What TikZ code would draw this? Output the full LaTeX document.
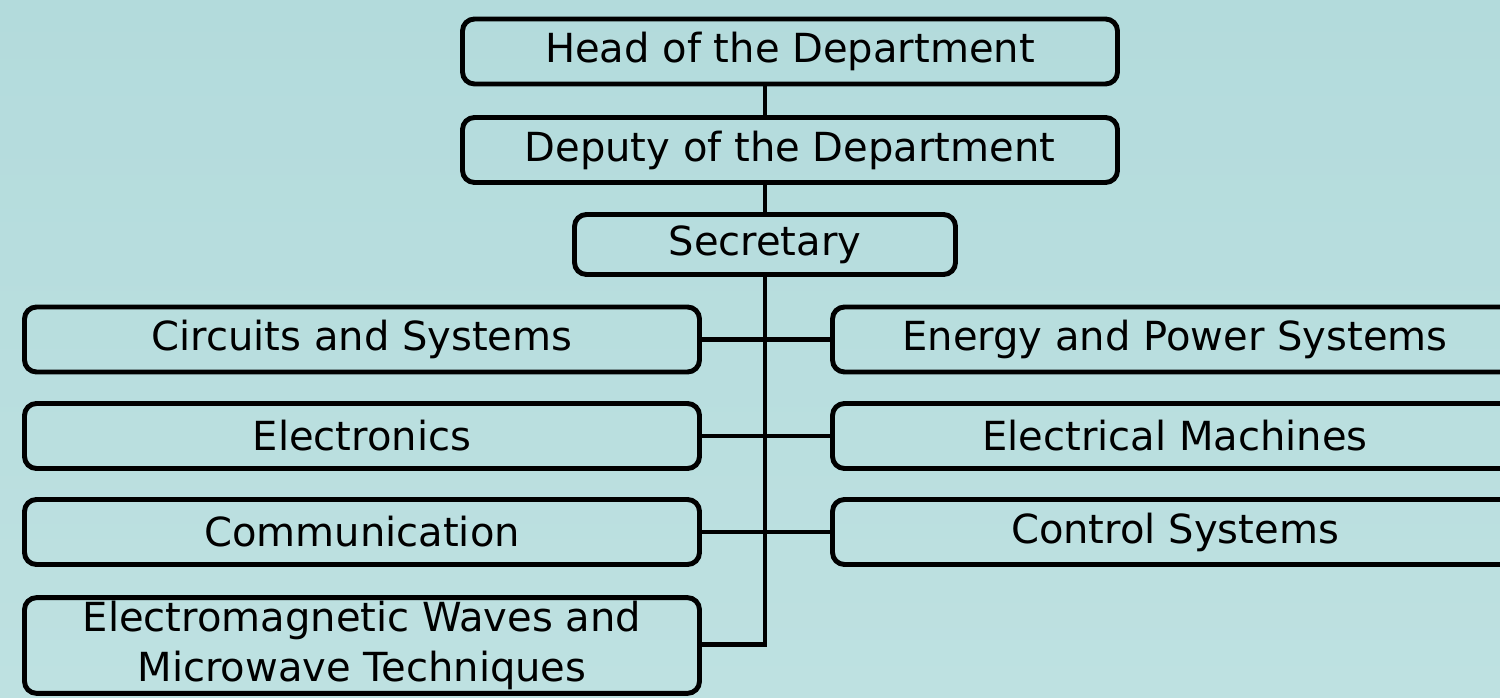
\documentclass[tikz,border=0pt]{standalone}
\usepackage{fontspec}
\setmainfont{DejaVu Sans}
\definecolor{bgtop}{RGB}{179,219,220}
\definecolor{bgbottom}{RGB}{190,225,225}

\begin{document}
\begin{tikzpicture}
      [every node/.style={draw,line width=2.8pt,rounded corners=0.24cm,inner sep=2pt,
        minimum height=1.3cm,font=\fontsize{22.8}{28.4}\selectfont,align=center},
       link/.style={line width=2.3pt}]
      \useasboundingbox [shade,top color=bgtop,bottom color=bgbottom] (0,0) rectangle (30,13.94);

      \node [minimum width=13.1cm] (head) at (15.8,12.91) {Head of the Department};
      \node [minimum width=13.1cm] (deputy) at (15.8,10.94) {Deputy of the Department};
      \node [minimum width=7.62cm,minimum height=1.2cm] (secr) at (15.3,9.05) {Secretary};

      \node [minimum width=13.5cm] (circ) at (7.24,7.15) {Circuits and Systems};
      \node [minimum width=13.5cm] (elec) at (7.24,5.22) {Electronics};
      \node [minimum width=13.5cm] (comm) at (7.24,3.30) {Communication};
      \node [minimum width=13.5cm,minimum height=1.9cm] (wave) at (7.24,1.03)
        {Electromagnetic Waves and\\Microwave Techniques};

      \node [minimum width=13.7cm] (power) at (23.5,7.15) {Energy and Power Systems};
      \node [minimum width=13.7cm] (mach) at (23.5,5.22) {Electrical Machines};
      \node [minimum width=13.7cm] (ctrl) at (23.5,3.30) {Control Systems};

      \coordinate (bend) at (15.3,1.05);

      \draw [link] (head.south -| bend) -- (deputy.north -| bend);
      \draw [link] (deputy.south -| bend) -- (secr.north -| bend);
      \draw [link] (secr.south) -- (bend) -- (bend -| wave.east);

      \foreach \from/\to in {circ/power, elec/mach, comm/ctrl}
      \draw [link] (\from) -- (\to);
    \end{tikzpicture}
\end{document}
